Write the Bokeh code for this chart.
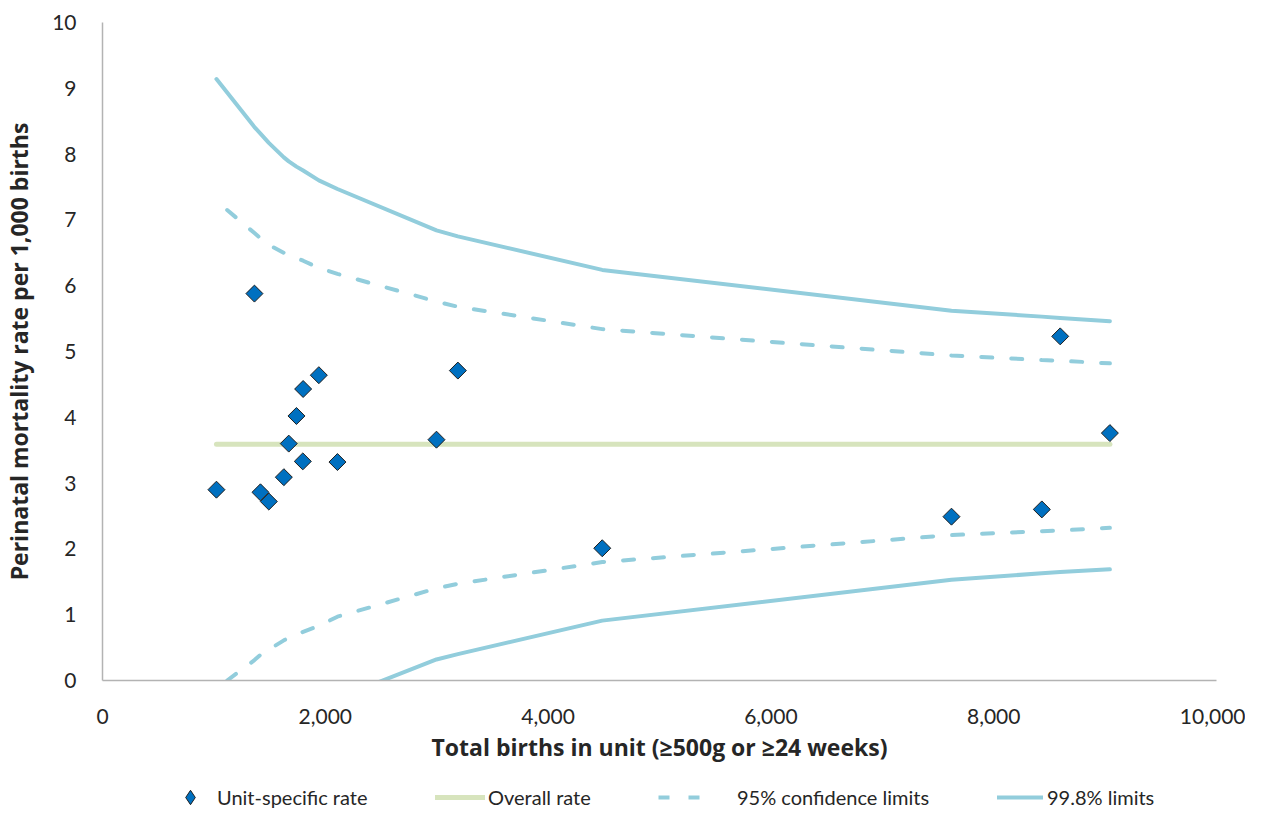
import math
from bokeh.plotting import figure
from bokeh.models import Range1d, FixedTicker, NumeralTickFormatter, Legend, LegendItem
from bokeh.layouts import column
from bokeh.embed import file_html
from bokeh.resources import INLINE

# ---- data ----
unit_births = [1023, 1364, 1418, 1493, 1628, 1672, 1741, 1798, 1801, 1942, 2109,
               2998, 3190, 4486, 7621, 8432, 8597, 9043]
unit_rate = [2.90, 5.88, 2.86, 2.72, 3.09, 3.60, 4.02, 3.33, 4.43, 4.64, 3.32,
             3.66, 4.71, 2.01, 2.49, 2.60, 5.23, 3.76]

overall_x = [1023, 9043]
overall_y = [3.59, 3.59]

lim998_up_x = [1023, 1364, 1418, 1493, 1628, 1672, 1741, 1801, 1942, 2109, 2998, 3190, 4486, 7621, 8432, 8597, 9043]
lim998_up_y = [9.14, 8.41, 8.31, 8.17, 7.95, 7.89, 7.81, 7.75, 7.60, 7.47, 6.84, 6.75, 6.24, 5.62, 5.53, 5.51, 5.46]

lim95_up_x = [1119, 1364, 1418, 1493, 1628, 1672, 1741, 1801, 1942, 2109, 2998, 3190, 4486, 7621, 8432, 8597, 9043]
lim95_up_y = [7.15, 6.80, 6.72, 6.62, 6.50, 6.47, 6.42, 6.38, 6.27, 6.18, 5.76, 5.68, 5.34, 4.94, 4.87, 4.86, 4.82]

lim95_lo_x = [1119, 1364, 1418, 1493, 1628, 1672, 1741, 1801, 1942, 2109, 2998, 3190, 4486, 7621, 8432, 8597, 9043]
lim95_lo_y = [0.00, 0.31, 0.39, 0.47, 0.61, 0.65, 0.70, 0.74, 0.83, 0.97, 1.40, 1.47, 1.80, 2.21, 2.27, 2.28, 2.32]

lim998_lo_x = [2109, 2998, 3190, 4486, 7621, 8432, 8597, 9043]
lim998_lo_y = [-0.27, 0.32, 0.40, 0.91, 1.53, 1.63, 1.65, 1.69]

x_ticks = [0, 2000, 4000, 6000, 8000, 10000]
y_ticks = list(range(0, 11))

legend_labels = ["Unit-specific rate", "Overall rate", "95% confidence limits", "99.8% limits"]

# ---- style ----
FONT = "Lato"
TITLE_FONT = "Open Sans"
TXT = "#262626"
LIM_COLOR = "#92CDDC"
OVR_COLOR = "#D7E4BD"
PT_FILL = "#0070C0"
PT_LINE = "#1F1F1F"
DASH = "11 19"

W = 1245
FRAME_LEFT = 102

p = figure(width=W, height=770, output_backend="svg", toolbar_location=None,
           x_range=Range1d(0, 10000), y_range=Range1d(0, 10),
           min_border_left=FRAME_LEFT, min_border_top=22, min_border_right=29, min_border_bottom=90)
p.outline_line_color = None
p.grid.visible = False
p.background_fill_color = "white"

for ax in (p.xaxis[0], p.yaxis[0]):
    ax.axis_line_color = "#B3B3B3"
    ax.axis_line_width = 1.5
    ax.major_tick_line_color = None
    ax.minor_tick_line_color = None
    ax.major_label_text_font = FONT
    ax.major_label_text_font_size = "21px"
    ax.major_label_text_color = TXT
    ax.axis_label_text_font = TITLE_FONT
    ax.axis_label_text_font_size = "23px"
    ax.axis_label_text_font_style = "bold"
    ax.axis_label_text_color = TXT

p.xaxis.ticker = FixedTicker(ticks=x_ticks)
p.xaxis.formatter = NumeralTickFormatter(format="0,0")
p.yaxis.ticker = FixedTicker(ticks=y_ticks)
p.xaxis.major_label_standoff = 22
p.yaxis.major_label_standoff = 20
p.xaxis.axis_label = "Total births in unit (\u2265500g or \u226524 weeks)"
p.yaxis.axis_label = "Perinatal mortality rate per 1,000 births"
p.xaxis.axis_label_standoff = 4
p.yaxis.axis_label_standoff = 14

# limit lines
p.line(lim998_up_x, lim998_up_y, line_color=LIM_COLOR, line_width=4, line_cap="round", line_join="round")
p.line(lim998_lo_x, lim998_lo_y, line_color=LIM_COLOR, line_width=4, line_cap="round", line_join="round")
p.line(lim95_up_x, lim95_up_y, line_color=LIM_COLOR, line_width=4, line_dash=DASH, line_cap="round")
p.line(lim95_lo_x, lim95_lo_y, line_color=LIM_COLOR, line_width=4, line_dash=DASH, line_cap="round")
# overall rate
p.line(overall_x, overall_y, line_color=OVR_COLOR, line_width=5, line_cap="round")
# unit points (diamonds as rotated squares)
p.scatter(unit_births, unit_rate, marker="square", size=12, angle=math.pi / 4,
          fill_color=PT_FILL, line_color=PT_LINE, line_width=1)

# ---- legend strip (separate figure below the chart; its frame aligns with the chart's) ----
lf = figure(width=W, height=45, output_backend="svg", toolbar_location=None,
            x_range=Range1d(0, 1), y_range=Range1d(0, 1),
            x_axis_type=None, y_axis_type=None,
            min_border_left=0, min_border_right=0, min_border_top=0, min_border_bottom=0)
lf.outline_line_color = None
lf.grid.visible = False

# same series, drawn outside this strip's visible range: only their legend swatches show
g_pts = lf.scatter(unit_births, unit_rate, marker="diamond", size=12,
                   fill_color=PT_FILL, line_color=PT_LINE, line_width=1)
g_ovr = lf.line(overall_x, overall_y, line_color=OVR_COLOR, line_width=5, line_cap="round")
g_95 = lf.line(lim95_up_x, lim95_up_y, line_color=LIM_COLOR, line_width=4, line_dash=DASH, line_cap="butt")
g_998 = lf.line(lim998_up_x, lim998_up_y, line_color=LIM_COLOR, line_width=4, line_cap="round")

def add_legend(label, rend, x_abs, y, gw, gh, standoff):
    lg = Legend(items=[LegendItem(label=label, renderers=[rend])],
                location=(x_abs - FRAME_LEFT, y), orientation="horizontal",
                glyph_width=gw, glyph_height=gh, label_standoff=standoff,
                padding=0, margin=0, spacing=0,
                border_line_color=None, background_fill_alpha=0,
                label_text_font=FONT, label_text_font_size="20px", label_text_color=TXT)
    lf.add_layout(lg, "center")

add_legend(legend_labels[0], g_pts, 172, 0, 36, 36, 9)
add_legend(legend_labels[1], g_ovr, 435, 6, 50, 24, 3)
add_legend(legend_labels[2], g_95, 658, 6, 50, 24, 29)
add_legend(legend_labels[3], g_998, 997, 6, 46, 24, 4)

open("out.html", "w").write(file_html(column(p, lf, spacing=0), INLINE))
